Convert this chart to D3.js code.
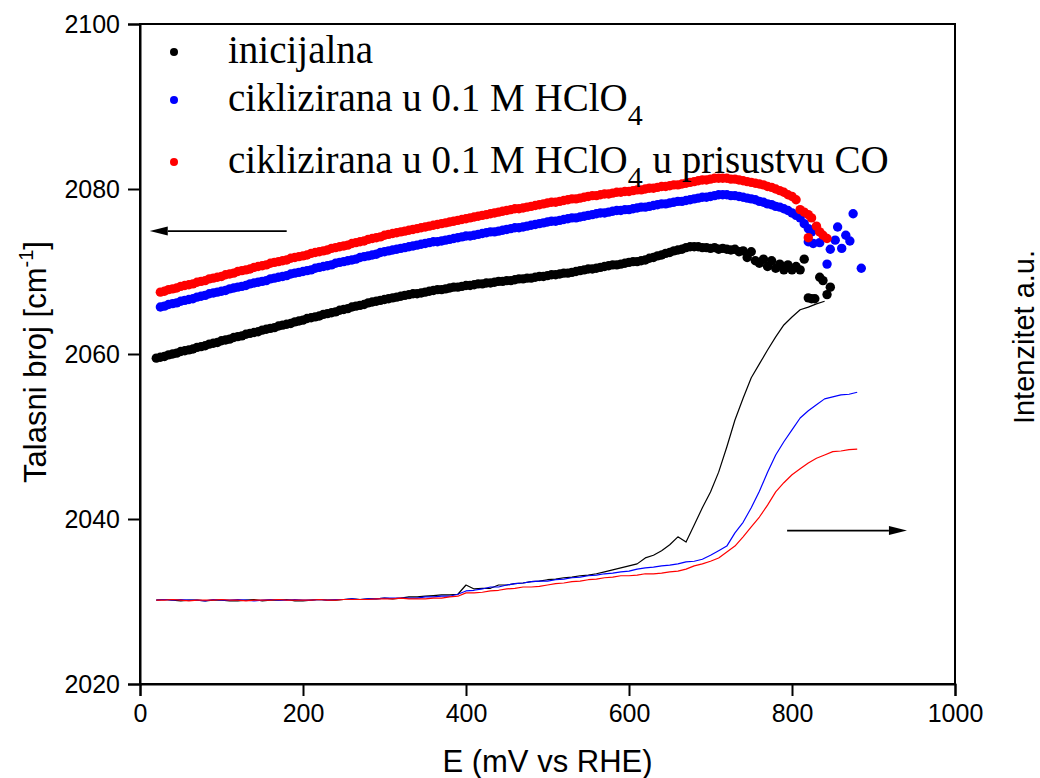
<!DOCTYPE html>
<html><head><meta charset="utf-8">
<script src="https://cdn.jsdelivr.net/npm/d3@7"></script>
<style>
html,body{margin:0;padding:0;background:#fff;}
svg{display:block;}
</style>
</head><body>
<div id="chart"></div>
<script>
// ---------- DATA ----------
const seriesNames = ["inicijalna", "ciklizirana u 0.1 M HClO", "ciklizirana u 0.1 M HClO"];
const seriesColors = ["#000000", "#0000ff", "#ff0000"];
const xTicks = [0, 200, 400, 600, 800, 1000];
const yTicks = [2020, 2040, 2060, 2080, 2100];

// potential (mV vs RHE) of the wavenumber scan points
const potential = [20,25,30,35,40,45,50,55,60,65,70,75,80,85,90,95,100,105,110,115,
120,125,130,135,140,145,150,155,160,165,170,175,180,185,190,195,200,205,210,215,
220,225,230,235,240,245,250,255,260,265,270,275,280,285,290,295,300,305,310,315,
320,325,330,335,340,345,350,355,360,365,370,375,380,385,390,395,400,405,410,415,
420,425,430,435,440,445,450,455,460,465,470,475,480,485,490,495,500,505,510,515,
520,525,530,535,540,545,550,555,560,565,570,575,580,585,590,595,600,605,610,615,
620,625,630,635,640,645,650,655,660,665,670,675,680,685,690,695,700,705,710,715,
720,725,730,735,740,745,750,755,760,765,770,775,780,785,790,795,800,805,810,815];

const waveInicijalna = [2059.5,2059.6,2059.7,2059.9,2060.0,2060.1,2060.3,2060.4,2060.5,2060.6,2060.8,2060.9,2061.0,2061.2,2061.3,2061.4,2061.6,2061.7,2061.8,2062.0,
2062.1,2062.2,2062.4,2062.5,2062.6,2062.7,2062.9,2063.0,2063.1,2063.2,2063.4,2063.5,2063.6,2063.7,2063.9,2064.0,2064.1,2064.3,2064.4,2064.5,
2064.6,2064.8,2064.9,2065.0,2065.1,2065.3,2065.4,2065.5,2065.7,2065.8,2065.9,2066.0,2066.2,2066.3,2066.4,2066.5,2066.6,2066.7,2066.8,2066.9,
2067.0,2067.1,2067.2,2067.3,2067.3,2067.4,2067.5,2067.6,2067.7,2067.8,2067.8,2067.9,2068.0,2068.1,2068.1,2068.2,2068.3,2068.3,2068.4,2068.5,
2068.5,2068.6,2068.6,2068.7,2068.8,2068.8,2068.9,2068.9,2069.0,2069.1,2069.1,2069.2,2069.2,2069.3,2069.4,2069.4,2069.5,2069.6,2069.6,2069.7,
2069.8,2069.8,2069.9,2070.0,2070.1,2070.2,2070.3,2070.3,2070.4,2070.5,2070.6,2070.7,2070.8,2070.8,2070.9,2071.0,2071.1,2071.2,2071.2,2071.3,
2071.4,2071.6,2071.7,2071.9,2072.0,2072.2,2072.3,2072.5,2072.6,2072.7,2072.9,2073.0,2073.0,2073.0,2072.9,2072.9,2072.8,2072.9,2072.7,2072.8,
2072.7,2072.6,2072.7,2072.4,2072.5,2071.7,2072.4,2071.3,2071.0,2071.5,2070.6,2071.3,2070.4,2070.9,2070.2,2070.8,2070.2,2070.6,2070.2,2071.5];

const waveHClO4 = [null,2065.7,2065.8,2066.0,2066.1,2066.2,2066.4,2066.5,2066.6,2066.7,2066.9,2067.0,2067.1,2067.3,2067.4,2067.5,2067.6,2067.7,2067.9,2068.0,
2068.1,2068.2,2068.3,2068.5,2068.6,2068.7,2068.8,2068.9,2069.1,2069.2,2069.3,2069.4,2069.5,2069.7,2069.8,2069.9,2070.0,2070.1,2070.2,2070.4,
2070.5,2070.6,2070.7,2070.8,2071.0,2071.1,2071.2,2071.3,2071.4,2071.5,2071.7,2071.8,2071.9,2072.0,2072.1,2072.3,2072.4,2072.5,2072.6,2072.7,
2072.8,2072.9,2073.0,2073.1,2073.2,2073.3,2073.4,2073.5,2073.6,2073.6,2073.7,2073.8,2073.9,2074.0,2074.1,2074.2,2074.3,2074.3,2074.4,2074.5,
2074.6,2074.7,2074.8,2074.8,2074.9,2075.0,2075.1,2075.2,2075.3,2075.3,2075.4,2075.5,2075.6,2075.7,2075.8,2075.9,2076.0,2076.1,2076.1,2076.2,
2076.3,2076.4,2076.5,2076.5,2076.6,2076.7,2076.8,2076.9,2077.0,2077.1,2077.1,2077.2,2077.3,2077.4,2077.4,2077.5,2077.5,2077.6,2077.7,2077.8,
2077.8,2077.9,2078.0,2078.1,2078.2,2078.2,2078.3,2078.4,2078.5,2078.5,2078.6,2078.7,2078.8,2078.9,2079.0,2079.0,2079.1,2079.2,2079.3,2079.3,
2079.3,2079.2,2079.2,2079.1,2079.0,2078.9,2078.8,2078.7,2078.5,2078.4,2078.2,2078.1,2077.9,2077.8,2077.6,2077.4,2077.1,2076.8,2076.5,null];

const waveCO = [null,2067.5,2067.6,2067.8,2067.9,2068.0,2068.2,2068.3,2068.4,2068.5,2068.7,2068.8,2068.9,2069.1,2069.2,2069.3,2069.4,2069.6,2069.7,2069.8,
2070.0,2070.1,2070.2,2070.3,2070.5,2070.6,2070.7,2070.8,2071.0,2071.1,2071.2,2071.3,2071.4,2071.6,2071.7,2071.8,2071.9,2072.0,2072.2,2072.3,
2072.4,2072.5,2072.6,2072.8,2072.9,2073.0,2073.1,2073.2,2073.4,2073.5,2073.6,2073.7,2073.9,2074.0,2074.1,2074.2,2074.4,2074.5,2074.6,2074.7,
2074.8,2074.9,2075.0,2075.1,2075.2,2075.3,2075.4,2075.5,2075.6,2075.7,2075.8,2075.9,2076.0,2076.1,2076.2,2076.3,2076.4,2076.5,2076.6,2076.7,
2076.8,2076.9,2077.0,2077.1,2077.2,2077.3,2077.4,2077.5,2077.6,2077.6,2077.7,2077.8,2077.9,2078.0,2078.1,2078.2,2078.3,2078.4,2078.4,2078.5,
2078.6,2078.7,2078.8,2078.8,2078.9,2079.0,2079.1,2079.2,2079.2,2079.3,2079.4,2079.4,2079.5,2079.6,2079.6,2079.7,2079.7,2079.8,2079.9,2079.9,
2080.0,2080.1,2080.1,2080.2,2080.3,2080.3,2080.4,2080.5,2080.5,2080.6,2080.7,2080.8,2080.9,2081.0,2081.1,2081.1,2081.2,2081.3,2081.3,2081.3,
2081.3,2081.2,2081.2,2081.1,2081.0,2080.9,2080.8,2080.7,2080.6,2080.5,2080.3,2080.2,2080.0,2079.8,2079.6,2079.3,2079.1,2078.7,null,null];

// scattered high-potential points
const tailInicijalnaE = [820,824,828,834,838,843,847];
const tailInicijalnaV = [2066.8,2066.7,2066.7,2069.3,2068.9,2067.2,2068.1];
const tailHClO4E = [815,820,824,820,826,834,847,856,853,866,871,861,875,843,885];
const tailHClO4V = [2075.8,2075.2,2074.8,2073.6,2073.4,2073.5,2072.7,2075.4,2073.8,2074.4,2073.7,2072.8,2077.0,2070.9,2070.4];
const tailCOE = [810,815,820,824,830,834,838,843,820];
const tailCOV = [2077.5,2077.2,2076.9,2076.5,2075.5,2074.8,2074.4,2074.0,2074.1];

// intensity (a.u.) traces, right (unlabelled) axis
const lineE = [20,30,40,50,60,70,80,90,100,110,120,130,140,150,160,170,180,190,200,210,
220,230,240,250,260,270,280,290,300,310,320,330,340,350,360,370,380,390,400,410,
420,430,440,450,460,470,480,490,500,510,520,530,540,550,560,570,580,590,600,610,
620,630,640,650,660,670,680,690,700,710,720,730,740,750,760,770,780,790,800,810,
820,830,840,850,860,870,880];
const intInicijalna = [12.7,12.8,12.7,12.6,12.7,12.7,12.6,12.7,12.7,12.6,12.6,12.7,12.8,12.6,12.7,12.7,12.8,12.6,12.6,12.7,
12.8,12.7,12.7,12.8,12.9,12.8,12.9,12.9,13.0,12.9,13.0,13.2,13.2,13.3,13.4,13.5,13.5,13.6,15.0,14.4,
14.5,14.5,15.0,15.0,15.2,15.3,15.5,15.6,15.8,15.9,16.1,16.2,16.4,16.5,16.7,17.0,17.3,17.6,17.9,18.2,
19.1,19.5,20.2,21.1,22.3,21.5,24.1,26.7,29.1,32.1,35.9,40.0,43.3,46.4,48.5,50.6,52.6,54.4,55.6,56.7,
57.1,57.6,58.0];
const intHClO4 = [12.7,12.8,12.7,12.8,12.7,12.7,12.6,12.8,12.7,12.7,12.8,12.7,12.6,12.7,12.8,12.7,12.7,12.8,12.7,12.7,
12.8,12.7,12.8,12.8,12.9,12.8,12.9,12.9,13.0,13.0,13.0,13.0,13.0,13.2,13.2,13.3,13.3,13.6,14.1,14.2,
14.4,14.7,14.7,15.0,15.2,15.3,15.5,15.6,15.6,15.8,15.9,16.1,16.2,16.4,16.5,16.7,16.8,17.0,17.1,17.4,
17.6,17.7,17.9,18.0,18.2,18.5,18.6,18.9,19.5,20.2,20.9,22.9,24.5,26.7,29.2,32.1,34.7,36.7,38.5,40.3,
41.4,42.3,43.2,43.5,43.8,43.9,44.2];
const intCO = [12.7,12.7,12.8,12.7,12.6,12.7,12.7,12.7,12.8,12.7,12.7,12.6,12.7,12.7,12.7,12.8,12.7,12.7,12.7,12.7,
12.8,12.7,12.7,12.8,12.8,12.8,12.8,12.9,12.9,12.9,13.0,12.9,12.9,12.9,13.0,13.0,13.2,13.3,13.8,13.8,
13.9,14.1,14.2,14.4,14.5,14.7,14.7,14.8,15.0,15.2,15.3,15.5,15.6,15.8,15.9,16.1,16.2,16.4,16.4,16.5,
16.7,16.7,16.8,17.0,17.1,17.4,17.9,18.2,18.6,19.1,20.0,20.9,22.3,23.8,25.3,27.1,29.1,30.5,31.7,32.6,
33.5,34.2,34.7,35.2,35.3,35.5,35.6];

// direction arrows: [E start, E end, wavenumber]
const arrowLeft = [180, 12, 2074.9];
const arrowRight = [794, 941, 2038.6];

// ---------- CHART ----------
const W = 1040, H = 778;
const M = {left: 140, right: 85, top: 24, bottom: 94};
const svg = d3.select("#chart").append("svg").attr("width", W).attr("height", H);

const x = d3.scaleLinear().domain([0, 1000]).range([M.left, W - M.right]);
const y = d3.scaleLinear().domain([2020, 2100]).range([H - M.bottom, M.top]);
const yR = d3.scaleLinear().domain([0, 100]).range([H - M.bottom, M.top]);

const sans = "'Liberation Sans', Arial, sans-serif";
const serif = "'Liberation Serif', 'Times New Roman', serif";

// intensity lines
const intSeries = [intInicijalna, intHClO4, intCO];
const lineGen = d3.line().x(d => x(d[0])).y(d => yR(d[1]));
intSeries.forEach((vals, i) => {
  const pts = vals.map((v, k) => [lineE[k], v]);
  svg.append("path").datum(pts)
    .attr("d", lineGen)
    .attr("fill", "none")
    .attr("stroke", seriesColors[i])
    .attr("stroke-width", 1.2)
    .attr("stroke-linejoin", "round");
});

// scatter
const waveSeries = [waveInicijalna, waveHClO4, waveCO];
const tails = [[tailInicijalnaE, tailInicijalnaV], [tailHClO4E, tailHClO4V], [tailCOE, tailCOV]];
waveSeries.forEach((vals, i) => {
  const pts = [];
  vals.forEach((v, k) => { if (v !== null) pts.push([potential[k], v]); });
  tails[i][0].forEach((e, k) => pts.push([e, tails[i][1][k]]));
  svg.append("g").selectAll("circle").data(pts).join("circle")
    .attr("cx", d => x(d[0]))
    .attr("cy", d => y(d[1]))
    .attr("r", 4.7)
    .attr("fill", seriesColors[i]);
});

// frame
svg.append("rect")
  .attr("x", M.left).attr("y", M.top)
  .attr("width", W - M.right - M.left).attr("height", H - M.bottom - M.top)
  .attr("fill", "none").attr("stroke", "#000").attr("stroke-width", 2);

// axes
const xAxis = svg.append("g").attr("transform", `translate(0,${H - M.bottom})`)
  .call(d3.axisBottom(x).tickValues(xTicks).tickSize(12).tickPadding(8).tickFormat(d3.format("d")));
const yAxis = svg.append("g").attr("transform", `translate(${M.left},0)`)
  .call(d3.axisLeft(y).tickValues(yTicks).tickSize(12).tickPadding(8).tickFormat(d3.format("d")));
[xAxis, yAxis].forEach(g => {
  g.select(".domain").attr("stroke-width", 2);
  g.selectAll(".tick line").attr("stroke-width", 2);
  g.selectAll(".tick text").attr("font-family", sans).attr("font-size", 25).attr("fill", "#000");
});

// axis titles
svg.append("text")
  .attr("x", (M.left + W - M.right) / 2).attr("y", 772)
  .attr("text-anchor", "middle").attr("font-family", sans).attr("font-size", 31)
  .text("E (mV vs RHE)");

const yt = svg.append("text")
  .attr("transform", `translate(46,362) rotate(-90)`)
  .attr("text-anchor", "middle").attr("font-family", sans).attr("font-size", 31);
yt.append("tspan").text("Talasni broj [cm");
yt.append("tspan").attr("font-size", 20).attr("dy", -13).text("-1");
yt.append("tspan").attr("dy", 13).text("]");

svg.append("text")
  .attr("transform", `translate(1034,337) rotate(-90)`)
  .attr("text-anchor", "middle").attr("font-family", sans).attr("font-size", 29)
  .text("Intenzitet a.u.");

// arrows
function arrow(a, dir) {
  const x0 = x(a[0]), x1 = x(a[1]), yy = y(a[2]);
  const len = 18, hw = 4.5;
  const xb = x1 - dir * len;
  svg.append("line").attr("x1", x0).attr("x2", xb).attr("y1", yy).attr("y2", yy)
    .attr("stroke", "#000").attr("stroke-width", 1.8);
  svg.append("path").attr("d", `M${x1},${yy} L${xb},${yy - hw} L${xb},${yy + hw} Z`).attr("fill", "#000");
}
arrow(arrowLeft, -1);
arrow(arrowRight, 1);

// legend
const legY = [52, 100, 162];
const legText = [63, 111, 173];
legY.forEach((ly, i) => {
  svg.append("circle").attr("cx", 174).attr("cy", ly).attr("r", 4).attr("fill", seriesColors[i]);
  const t = svg.append("text").attr("x", 228).attr("y", legText[i])
    .attr("font-family", serif).attr("font-size", 39).attr("fill", "#000");
  t.append("tspan").text(seriesNames[i]);
  if (i > 0) {
    t.append("tspan").attr("font-size", 30).attr("dy", 14).text("4");
    if (i === 2) t.append("tspan").attr("dy", -14).text(" u prisustvu CO");
  }
});
</script>
</body></html>
